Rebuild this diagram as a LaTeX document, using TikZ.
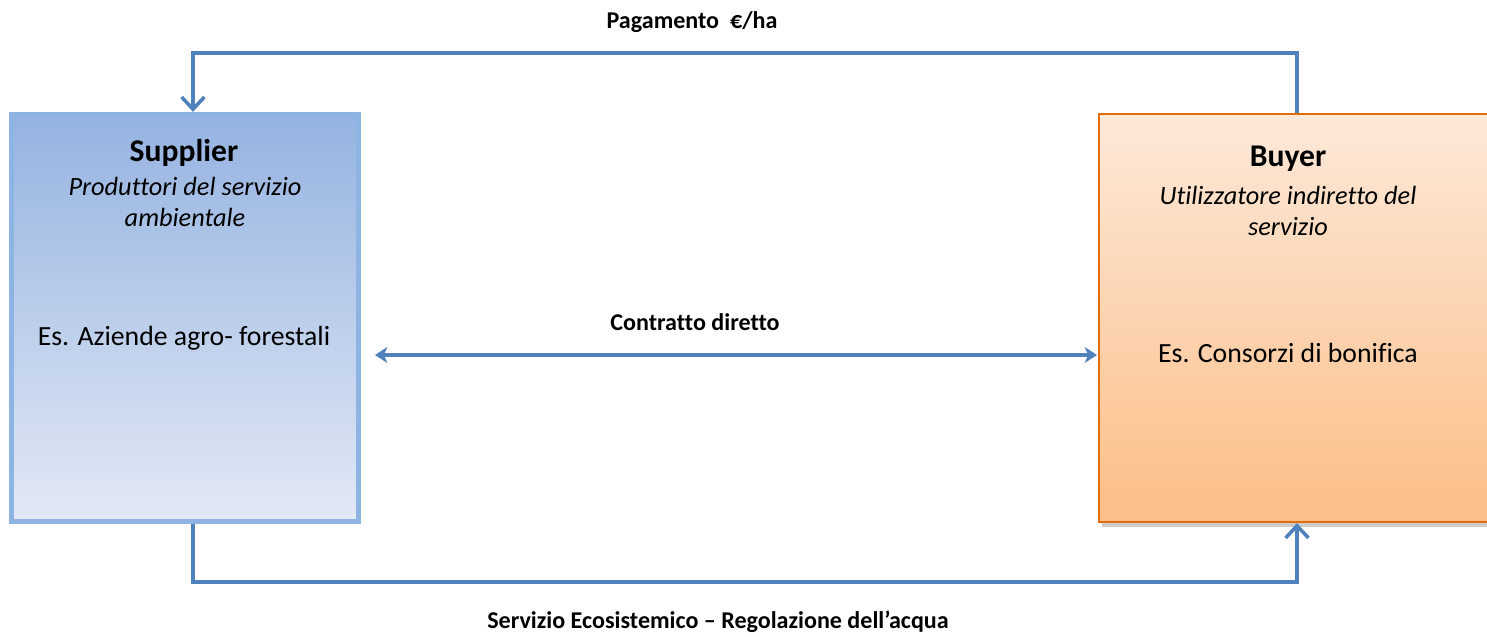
\documentclass[tikz,border=0pt]{standalone}
\usepackage{fontspec}
\setmainfont{Carlito}[Ligatures=NoCommon]
\usetikzlibrary{
    arrows.meta,
    positioning,
    calc,
    shadows
}

\begin{document}
\begin{tikzpicture}[
    x=0.02cm, y=-0.02cm,
    supbox/.style={draw=supedge, line width=2.8pt, top color=suptop, bottom color=supbot,
        minimum width=6.95cm, minimum height=8.15cm, inner sep=0pt},
    buybox/.style={draw=buyedge, line width=1.3pt, top color=buytop, bottom color=buybot,
        minimum width=8.4cm, minimum height=8.16cm, inner sep=0pt,
        drop shadow={opacity=0.4, shadow xshift=1.5pt, shadow yshift=-3pt}},
    flow/.style={draw=flowblue, line width=2pt},
    title/.style={font=\fontsize{18}{21}\selectfont\bfseries},
    role/.style={font=\fontsize{15}{17.8}\selectfont\itshape, align=center},
    example/.style={font=\fontsize{15.8}{18}\selectfont},
    flowlabel/.style={font=\fontsize{13.7}{16}\selectfont\bfseries}
]
% Define palette
\definecolor{supedge}{RGB}{141, 180, 226}
\definecolor{suptop}{RGB}{149, 179, 225}
\definecolor{supbot}{RGB}{227, 233, 245}
\definecolor{buyedge}{RGB}{228, 108, 10}
\definecolor{buytop}{RGB}{253, 233, 217}
\definecolor{buybot}{RGB}{251, 190, 135}
\definecolor{flowblue}{RGB}{79, 129, 189}

\useasboundingbox (0,0) rectangle (1487,636);
\clip (0,0) rectangle (1487,636);

% actors
\node[supbox] (sup) at (185,318) {};
\node[buybox] (buy) at (1309,318) {};

\node[title] (supT) at (184,153) {Supplier};
\node[role] (supR) at (185,202) {Produttori del servizio\\ambientale};
\node[example] (supE) at (184,338) {Es. Aziende agro- forestali};

\node[title] (buyT) at (1288,159) {Buyer};
\node[role] (buyR) at (1288,211) {Utilizzatore indiretto del\\servizio};
\node[example] (buyE) at (1288,353) {Es. Consorzi di bonifica};

% flows
\coordinate (payR) at (1297,53);
\coordinate (payL) at (193,53);
\coordinate (ecoL) at (193,582);
\coordinate (ecoR) at (1297,582);
\coordinate (ctrL) at (375,355);
\coordinate (ctrR) at (1097,355);

\draw[flow, -{Straight Barb[length=7pt, width=13pt]}]
    (buy.north -| payR) -- (payR) -- (payL) -- (sup.north -| payL);
\draw[flow, -{Straight Barb[length=7pt, width=13pt]}]
    (sup.south -| ecoL) -- (ecoL) -- (ecoR) -- (buy.south -| ecoR);
\draw[flow, {Stealth[length=7pt, width=9pt, inset=2pt]}-{Stealth[length=7pt, width=9pt, inset=2pt]}]
    (ctrL) -- (ctrR);

\node[flowlabel] (payLbl) at (692,22) {Pagamento \ €/ha};
\node[flowlabel] (ctrLbl) at (695,322) {Contratto diretto};
\node[flowlabel] (ecoLbl) at (718,622) {Servizio Ecosistemico – Regolazione dell’acqua};
\end{tikzpicture}
\end{document}
